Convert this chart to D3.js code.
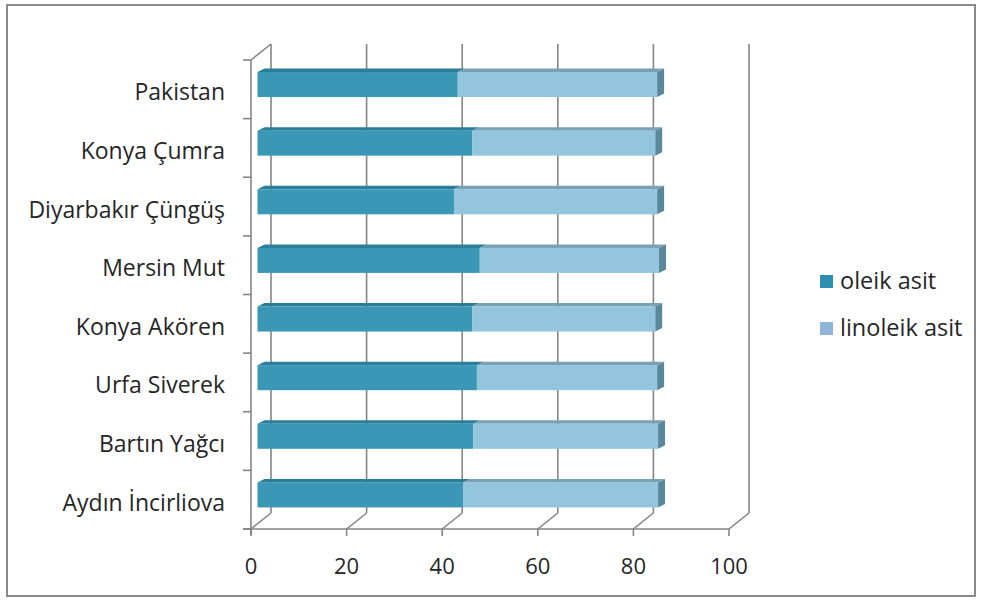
<!DOCTYPE html>
<html>
<head>
<meta charset="utf-8">
<script src="https://cdn.jsdelivr.net/npm/d3@7/dist/d3.min.js"></script>
<style>
  html, body { margin: 0; padding: 0; background: #ffffff; }
  svg { display: block; }
  text { font-family: "Open Sans", "Noto Sans", sans-serif; fill: #262626; }
</style>
</head>
<body>
<svg id="chart" width="981" height="601"></svg>
<script>
// Sample regions (top to bottom) and fatty acid shares (%)
const categories = ["Pakistan", "Konya Çumra", "Diyarbakır Çüngüş", "Mersin Mut",
                    "Konya Akören", "Urfa Siverek", "Bartın Yağcı", "Aydın İncirliova"];
const oleik    = [41.9, 44.9, 41.1, 46.5, 44.9, 45.9, 45.1, 43.0];
const linoleik = [41.7, 38.3, 42.5, 37.5, 38.3, 37.7, 38.7, 40.8];
const seriesNames = ["oleik asit", "linoleik asit"];
const xTicks = [0, 20, 40, 60, 80, 100];

const svg = d3.select("#chart");

// Plot geometry: front plane and the receding back wall
const x = d3.scaleLinear().domain([0, 100]).range([251, 729]);
const y = d3.scaleBand().domain(categories).range([60, 529]);
const depth = { dx: 20, dy: -16 };      // floor / wall depth offset
const bar = { shift: 6.5, dx: 7, dy: -3.5 }; // bar placement inside the depth
const gridColor = "#858585";

// outer frame
svg.append("rect")
  .attr("x", 7).attr("y", 5).attr("width", 968).attr("height", 591)
  .attr("fill", "#fff").attr("stroke", "#8a8a8a").attr("stroke-width", 2);

const grid = svg.append("g").attr("stroke", gridColor).attr("stroke-width", 1.6).attr("fill", "none");

// back wall vertical gridlines
grid.selectAll("line.wall").data(xTicks).join("line")
  .attr("class", "wall")
  .attr("x1", d => x(d) + depth.dx).attr("x2", d => x(d) + depth.dx)
  .attr("y1", y.range()[0] + depth.dy).attr("y2", y.range()[1] + depth.dy);

// floor diagonals from front ticks to back wall
grid.selectAll("line.floor").data(xTicks).join("line")
  .attr("class", "floor")
  .attr("x1", d => x(d)).attr("y1", y.range()[1])
  .attr("x2", d => x(d) + depth.dx).attr("y2", y.range()[1] + depth.dy);

// front category axis, its top edge and tick marks
grid.append("line")
  .attr("x1", x(0)).attr("x2", x(0)).attr("y1", y.range()[0]).attr("y2", y.range()[1] + 6);
grid.append("line")
  .attr("x1", x(0)).attr("y1", y.range()[0])
  .attr("x2", x(0) + depth.dx).attr("y2", y.range()[0] + depth.dy);
const catEdges = categories.map(c => y(c)).concat([y.range()[1]]);
grid.selectAll("line.ytick").data(catEdges).join("line")
  .attr("class", "ytick")
  .attr("x1", x(0) - 8).attr("x2", x(0)).attr("y1", d => d).attr("y2", d => d);

// value axis baseline and ticks
grid.append("line")
  .attr("x1", x(0) - 8).attr("x2", x(100)).attr("y1", y.range()[1]).attr("y2", y.range()[1]);
grid.selectAll("line.xtick").data(xTicks).join("line")
  .attr("class", "xtick")
  .attr("x1", d => x(d)).attr("x2", d => x(d))
  .attr("y1", y.range()[1]).attr("y2", y.range()[1] + 7);

// tick labels
svg.append("g").selectAll("text").data(xTicks).join("text")
  .attr("x", d => x(d)).attr("y", 574)
  .attr("text-anchor", "middle").attr("font-size", 22)
  .text(d => d);

// category labels
svg.append("g").selectAll("text").data(categories).join("text")
  .attr("x", 225).attr("y", d => y(d) + y.bandwidth() / 2 + 11)
  .attr("text-anchor", "end").attr("font-size", 23)
  .text(d => d);

// 3D stacked bars
const colors = {
  oleik:    { front: "#3a98b6", top: "#2b7e9a", side: "#2d7590" },
  linoleik: { front: "#93c5dd", top: "#7aa0b5", side: "#5b879c" }
};
const barTop = d => y(d) + y.bandwidth() * 0.205;
const barH = y.bandwidth() * 0.427;

const rows = categories.map((c, i) => ({ c, o: oleik[i], l: linoleik[i] }));
const bars = svg.append("g");

function box(g, c, v0, v1, col, withSide) {
  const x0 = x(v0) + bar.shift, x1 = x(v1) + bar.shift;
  const t = barTop(c), b = t + barH;
  g.append("polygon")
    .attr("points", [[x0, t], [x1, t], [x1 + bar.dx, t + bar.dy], [x0 + bar.dx, t + bar.dy]].join(" "))
    .attr("fill", col.top);
  if (withSide) {
    g.append("polygon")
      .attr("points", [[x1, t], [x1 + bar.dx, t + bar.dy], [x1 + bar.dx, b + bar.dy], [x1, b]].join(" "))
      .attr("fill", col.side);
  }
  g.append("rect")
    .attr("x", x0).attr("y", t).attr("width", x1 - x0).attr("height", barH)
    .attr("fill", col.front);
}

rows.forEach(r => {
  const g = bars.append("g");
  box(g, r.c, 0, r.o, colors.oleik, false);
  box(g, r.c, r.o, r.o + r.l, colors.linoleik, true);
});

// legend
const legendColors = ["#2f8fb0", "#8fb6d8"];
const legend = svg.append("g");
seriesNames.forEach((name, i) => {
  legend.append("rect")
    .attr("x", 820).attr("y", 275 + i * 47).attr("width", 13).attr("height", 13)
    .attr("fill", legendColors[i]);
  legend.append("text")
    .attr("x", 840).attr("y", 289 + i * 47).attr("font-size", 23.5)
    .text(name);
});
</script>
</body>
</html>
